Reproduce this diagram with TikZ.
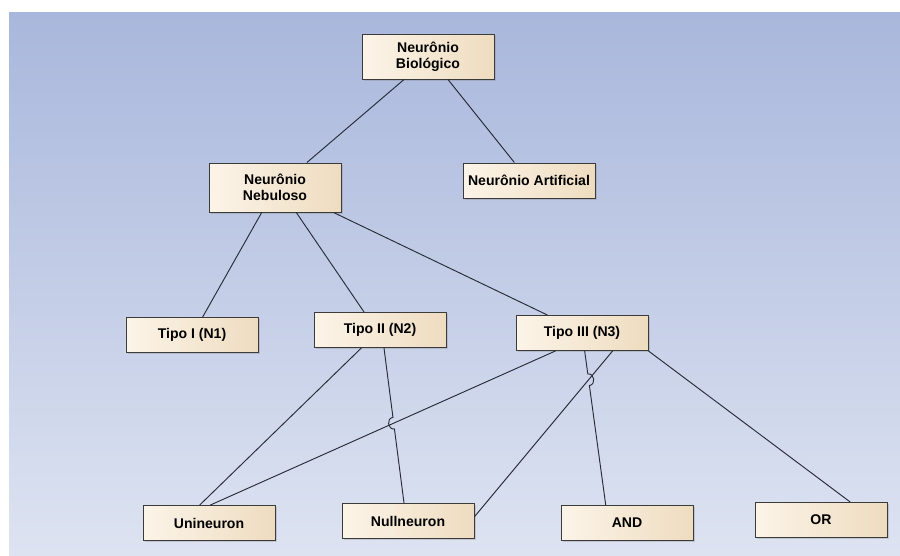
\documentclass[tikz,border=0pt]{standalone}
\usepackage{fontspec}
\setmainfont{Liberation Sans}
\usetikzlibrary{calc,intersections,shadows}

\definecolor{bgtop}{HTML}{A9B7DC}
\definecolor{bgbot}{HTML}{DDE3F1}
\definecolor{boxl}{HTML}{FCF4E8}
\definecolor{boxr}{HTML}{EEDCC0}
\definecolor{boxedge}{HTML}{3B3B3B}
\definecolor{wirecol}{HTML}{262B36}

\tikzset{
  box/.style={draw=boxedge, line width=0.8pt, left color=boxl, right color=boxr,
    minimum width=3.96cm, minimum height=1.05cm, align=center, inner sep=1pt,
    font=\fontsize{12}{13.6}\selectfont\bfseries,
    drop shadow={shadow xshift=1.5pt, shadow yshift=-1.5pt, opacity=0.3}},
  wire/.style={draw=wirecol, line width=0.8pt},
}

\begin{document}
\begin{tikzpicture}[x=0.03cm, y=-0.03cm]
    \useasboundingbox (0,0) rectangle (900,555);
    \fill[top color=bgtop, bottom color=bgbot] (9,12) rectangle (900,555);

    % Hierarchy boxes
    \node[box, minimum height=1.35cm] (bio) at (428,56.5) {Neurônio\\Biológico};
    \node[box, minimum height=1.47cm] (neb) at (275,187.5) {Neurônio\\Nebuloso};
    \node[box] (art) at (529,180.5) {Neurônio Artificial};
    \node[box] (tipoa) at (192,335) {Tipo I (N1)};
    \node[box] (tipob) at (380,330) {Tipo II (N2)};
    \node[box] (tipoc) at (582,333) {Tipo III (N3)};
    \node[box] (unin) at (209,523) {Unineuron};
    \node[box] (nulln) at (408,521) {Nullneuron};
    \node[box] (andn) at (627,523) {AND};
    \node[box] (orn) at (821,520) {OR};

    % Attachment points on the box edges
    \coordinate (bio1) at ($(bio.south west)!0.32!(bio.south east)$);
    \coordinate (bio2) at ($(bio.south west)!0.65!(bio.south east)$);
    \coordinate (neb0) at ($(neb.north west)!0.74!(neb.north east)$);
    \coordinate (neb1) at ($(neb.south west)!0.40!(neb.south east)$);
    \coordinate (neb2) at ($(neb.south west)!0.66!(neb.south east)$);
    \coordinate (neb3) at ($(neb.south west)!0.94!(neb.south east)$);
    \coordinate (art0) at ($(art.north west)!0.39!(art.north east)$);
    \coordinate (tipoa0) at ($(tipoa.north west)!0.58!(tipoa.north east)$);
    \coordinate (tipob0) at ($(tipob.north west)!0.38!(tipob.north east)$);
    \coordinate (tipob1) at ($(tipob.south west)!0.36!(tipob.south east)$);
    \coordinate (tipob2) at ($(tipob.south west)!0.53!(tipob.south east)$);
    \coordinate (tipoc0) at ($(tipoc.north west)!0.24!(tipoc.north east)$);
    \coordinate (tipoc1) at ($(tipoc.south west)!0.30!(tipoc.south east)$);
    \coordinate (tipoc2) at ($(tipoc.south west)!0.52!(tipoc.south east)$);
    \coordinate (tipoc3) at ($(tipoc.south west)!0.73!(tipoc.south east)$);
    \coordinate (unin1) at ($(unin.north west)!0.43!(unin.north east)$);
    \coordinate (unin2) at ($(unin.north west)!0.51!(unin.north east)$);
    \coordinate (nulln1) at ($(nulln.north west)!0.47!(nulln.north east)$);
    \coordinate (nulln2) at ($(nulln.north east)!0.38!(nulln.south east)$);
    \coordinate (andn1) at ($(andn.north west)!0.34!(andn.north east)$);
    \coordinate (orn1) at ($(orn.north west)!0.72!(orn.north east)$);

    % Plain connectors
    \draw[wire] (bio1) -- (neb0);
    \draw[wire] (bio2) -- (art0);
    \draw[wire] (neb1) -- (tipoa0);
    \draw[wire] (neb2) -- (tipob0);
    \draw[wire] (neb3) -- (tipoc0);
    \draw[wire] (tipob1) -- (unin1);
    \draw[wire, name path=wuni] (tipoc1) -- (unin2);
    \draw[wire, name path=wnull] (tipoc3) -- (nulln2);
    \draw[wire] (tipoc.south east) -- (orn1);

    % Connectors with a line jump
    \path[name path=wtwo] (tipob2) -- (nulln1);
    \path[name intersections={of=wtwo and wuni, by=jmpa}];
    \draw[wire] (tipob2) -- ($(jmpa)!5pt!(tipob2)$)
      to[bend right=90, looseness=1.5] ($(jmpa)!5pt!(nulln1)$) -- (nulln1);

    \path[name path=wand] (tipoc2) -- (andn1);
    \path[name intersections={of=wand and wnull, by=jmpb}];
    \draw[wire] (tipoc2) -- ($(jmpb)!5pt!(tipoc2)$)
      to[bend left=90, looseness=1.5] ($(jmpb)!5pt!(andn1)$) -- (andn1);
  \end{tikzpicture}
\end{document}
